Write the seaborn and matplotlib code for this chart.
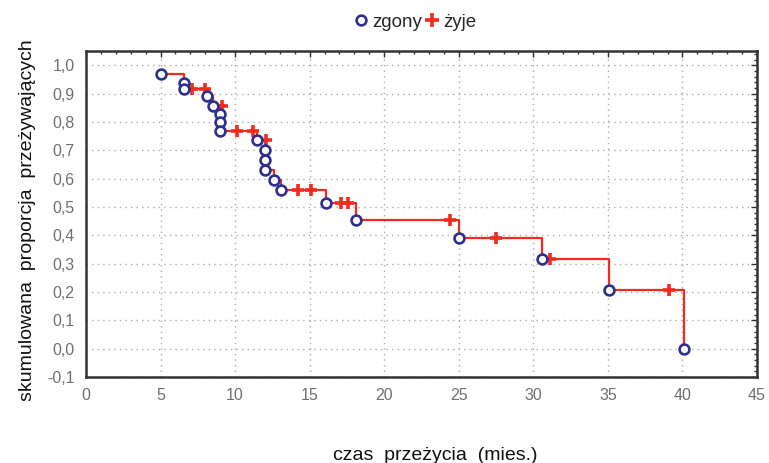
import pandas as pd
import matplotlib
matplotlib.use("Agg")
import matplotlib.pyplot as plt
import seaborn as sns
from matplotlib.ticker import MultipleLocator, FuncFormatter
from matplotlib.lines import Line2D

# step levels of the survival curve (one per distinct death time)
step_time = [5.0, 6.6, 8.1, 8.5, 9.0, 11.5, 12.0, 12.6, 13.1, 16.1, 18.1, 25.0, 30.6, 35.1, 40.1]
step_surv = [0.968, 0.915, 0.890, 0.857, 0.768, 0.736, 0.632, 0.596, 0.560, 0.514, 0.455, 0.390, 0.315, 0.208, 0.0]

# every death (zgony), ties drawn at intermediate levels
death_time = [5.0, 6.6, 6.6, 8.1, 8.5, 9.0, 9.0, 9.0, 11.5, 12.0, 12.0, 12.0, 12.6, 13.1,
              16.1, 18.1, 25.0, 30.6, 35.1, 40.1]
death_surv = [0.968, 0.937, 0.915, 0.890, 0.857, 0.827, 0.798, 0.768, 0.736, 0.700, 0.665, 0.632,
              0.596, 0.560, 0.514, 0.455, 0.390, 0.315, 0.208, 0.0]

# censored (żyje)
cens_time = [7.1, 8.0, 9.1, 10.1, 11.2, 12.1, 14.2, 15.1, 17.1, 17.6, 24.4, 27.5, 31.1, 39.1]
cens_surv = [0.915, 0.915, 0.857, 0.768, 0.768, 0.736, 0.560, 0.560, 0.514, 0.514, 0.455, 0.390, 0.315, 0.208]

RED = "#f32a1e"
BLUE = "#2e2f8f"

sns.set_style("white")
plt.rcParams["font.family"] = ["Liberation Sans", "DejaVu Sans"]

steps = pd.DataFrame({"t": step_time, "s": step_surv})
deaths = pd.DataFrame({"t": death_time, "s": death_surv})
cens = pd.DataFrame({"t": cens_time, "s": cens_surv})

fig = plt.figure(figsize=(7.69, 4.63), dpi=100)
ax = fig.add_axes([0.1118, 0.1857, 0.8726, 0.7041])

sns.lineplot(data=steps, x="t", y="s", ax=ax, drawstyle="steps-post", color=RED,
             lw=1.6, estimator=None, sort=False, zorder=2)
sns.scatterplot(data=cens, x="t", y="s", ax=ax, marker="+", s=75, color=RED,
                linewidth=2.6, zorder=3)
sns.scatterplot(data=deaths, x="t", y="s", ax=ax, marker="o", s=50, facecolor="white",
                edgecolor=BLUE, linewidth=1.9, zorder=4)

ax.set_xlim(0, 45)
ax.set_ylim(-0.1, 1.05)
ax.xaxis.set_major_locator(MultipleLocator(5))
ax.xaxis.set_minor_locator(MultipleLocator(1))
ax.yaxis.set_major_locator(MultipleLocator(0.1))
ax.yaxis.set_minor_locator(MultipleLocator(0.02))
ax.yaxis.set_major_formatter(FuncFormatter(lambda v, p: f"{v:.1f}".replace(".", ",").replace("-0,0", "0,0")))
ax.tick_params(which="both", direction="in", top=True, right=True, colors="#333333",
               labelcolor="#707070", labelsize=11.5)
ax.tick_params(which="major", length=4, width=1, pad=8)
ax.tick_params(which="minor", length=2.5, width=1)
ax.grid(True, which="major", linestyle=(0, (1, 3)), color="#aaaaaa", lw=1)
for sp in ax.spines.values():
    sp.set_color("#333333")
    sp.set_linewidth(1.8)

ax.set_xlabel("czas  przeżycia  (mies.)", fontsize=14, color="#111111")
ax.set_ylabel("skumulowana  proporcja  przeżywających", fontsize=14, color="#111111")
ax.xaxis.set_label_coords(0.52, -0.215)
ax.yaxis.set_label_coords(-0.075, 0.48)

handles = [Line2D([], [], marker="o", ls="", ms=7, mfc="white", mec=BLUE, mew=1.9),
           Line2D([], [], marker="+", ls="", ms=9.5, color=RED, mew=2.6)]
fig.legend(handles, ["zgony", "żyje"], loc="center", bbox_to_anchor=(0.538, 0.952), ncol=2,
           frameon=False, fontsize=13.5, handletextpad=0.1, columnspacing=0.05, handlelength=1)

fig.savefig("out.png", dpi=100)
